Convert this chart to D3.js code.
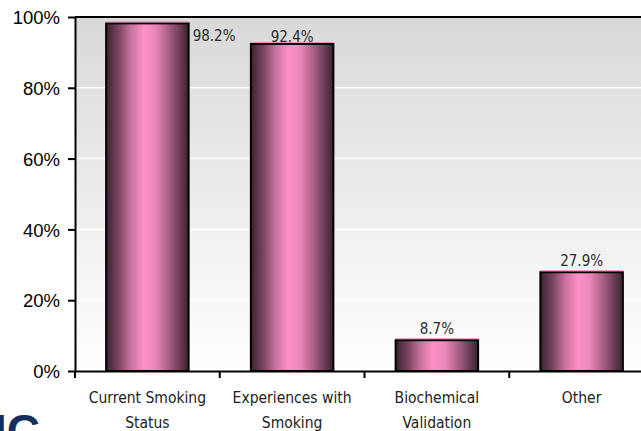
<!DOCTYPE html>
<html>
<head>
<meta charset="utf-8">
<script src="https://cdn.jsdelivr.net/npm/d3@7"></script>
<style>
  body { margin: 0; background: #fff; }
  svg { display: block; }
</style>
</head>
<body>
<div id="chart"></div>
<script>
// chart data
const categories = ['Current Smoking\nStatus', 'Experiences with\nSmoking', 'Biochemical\nValidation', 'Other'];
const values = [98.2, 92.4, 8.7, 27.9];
const valueLabels = ['98.2%', '92.4%', '8.7%', '27.9%'];
const yTicks = [0, 20, 40, 60, 80, 100];

const width = 641;
const height = 431;
const margin = { top: 17, left: 75, bottom: 60 };
const plotRight = 654; // plot runs past the window edge

const narrowFont = '"Liberation Sans Narrow", "DejaVu Sans Condensed", sans-serif';

const svg = d3.select('#chart')
  .append('svg')
  .attr('width', width)
  .attr('height', height);

const x = d3.scaleBand()
  .domain(categories)
  .range([margin.left, plotRight])
  .paddingInner(0.43)
  .paddingOuter(0.215);

const y = d3.scaleLinear()
  .domain([0, 100])
  .range([height - margin.bottom, margin.top]);

const defs = svg.append('defs');

// plot background: gray at top fading to white
const bg = defs.append('linearGradient')
  .attr('id', 'bg-grad')
  .attr('x1', 0).attr('x2', 0).attr('y1', 0).attr('y2', 1);
bg.append('stop').attr('offset', '0%').attr('stop-color', '#d9d9d9');
bg.append('stop').attr('offset', '100%').attr('stop-color', '#ffffff');

// cylinder-like shading for bars
const barGrad = defs.append('linearGradient')
  .attr('id', 'bar-grad')
  .attr('x1', 0).attr('x2', 1).attr('y1', 0).attr('y2', 0);
[
  ['0%', '#3a2230'],
  ['15%', '#7a4460'],
  ['30%', '#c8729e'],
  ['46%', '#ff90c6'],
  ['60%', '#e987b8'],
  ['78%', '#a05a7e'],
  ['100%', '#3a2230']
].forEach(([o, c]) => {
  barGrad.append('stop').attr('offset', o).attr('stop-color', c);
});

svg.append('rect')
  .attr('x', margin.left)
  .attr('y', y(100))
  .attr('width', plotRight - margin.left)
  .attr('height', y(0) - y(100))
  .attr('fill', 'url(#bg-grad)');

// white gridlines
svg.append('g')
  .selectAll('line')
  .data(yTicks.filter(d => d > 0 && d < 100))
  .join('line')
  .attr('x1', margin.left)
  .attr('x2', plotRight)
  .attr('y1', d => y(d))
  .attr('y2', d => y(d))
  .attr('stroke', '#ffffff')
  .attr('stroke-width', 1.5);

// top border of plot area
svg.append('line')
  .attr('x1', margin.left)
  .attr('x2', plotRight)
  .attr('y1', y(100))
  .attr('y2', y(100))
  .attr('stroke', '#000')
  .attr('stroke-width', 2);

// bars
const bars = svg.append('g')
  .selectAll('g')
  .data(categories.map((c, i) => ({ cat: c, value: values[i], label: valueLabels[i] })))
  .join('g');

bars.append('rect')
  .attr('x', d => x(d.cat))
  .attr('y', d => y(d.value))
  .attr('width', x.bandwidth())
  .attr('height', d => y(0) - y(d.value))
  .attr('fill', 'url(#bar-grad)')
  .attr('stroke', '#000')
  .attr('stroke-width', 2);

bars.append('line')
  .attr('x1', d => x(d.cat))
  .attr('x2', d => x(d.cat) + x.bandwidth())
  .attr('y1', d => y(d.value) - 1.5)
  .attr('y2', d => y(d.value) - 1.5)
  .attr('stroke', '#f08cbc')
  .attr('stroke-width', 1);

// value labels (first one sits beside the bar, second is pushed down by the plot top)
bars.append('text')
  .attr('x', (d, i) => i === 0 ? x(d.cat) + x.bandwidth() + 4 : x(d.cat) + x.bandwidth() / 2)
  .attr('y', (d, i) => i === 0 ? y(d.value) + 18 : Math.max(y(d.value) - 6, y(100) + 25))
  .attr('text-anchor', (d, i) => i === 0 ? 'start' : 'middle')
  .style('font-family', narrowFont)
  .style('font-size', '15px')
  .style('fill', '#2a2a2a')
  .text(d => d.label);

// y axis
const yAxis = svg.append('g')
  .attr('transform', `translate(${margin.left},0)`)
  .call(d3.axisLeft(y).tickValues(yTicks).tickFormat(d => d + '%').tickSize(7).tickSizeOuter(0));
yAxis.select('.domain').attr('stroke', '#000').attr('stroke-width', 2);
yAxis.selectAll('.tick line').attr('stroke', '#000').attr('stroke-width', 2);
yAxis.selectAll('.tick text')
  .attr('x', -15)
  .attr('dy', '0.36em')
  .style('font-family', '"Liberation Sans", Arial, sans-serif')
  .style('font-size', '18.5px')
  .style('fill', '#000');

// x axis
const xAxis = svg.append('g')
  .attr('transform', `translate(0,${y(0)})`)
  .call(d3.axisBottom(x).tickSize(0).tickSizeOuter(0));
xAxis.select('.domain').attr('stroke', '#000').attr('stroke-width', 2);

// category separators
const bounds = categories.map(c => x(c) - x.step() * x.paddingInner() / 2);
svg.append('g')
  .selectAll('line')
  .data(bounds)
  .join('line')
  .attr('x1', d => d)
  .attr('x2', d => d)
  .attr('y1', y(0))
  .attr('y2', y(0) + 7)
  .attr('stroke', '#000')
  .attr('stroke-width', 2);

xAxis.selectAll('.tick text').remove();
xAxis.selectAll('.tick')
  .append('text')
  .attr('text-anchor', 'middle')
  .style('font-family', narrowFont)
  .style('font-size', '15.5px')
  .style('fill', '#222')
  .selectAll('tspan')
  .data(d => d.split('\n'))
  .join('tspan')
  .attr('x', 0)
  .attr('y', (d, i) => 32 + i * 25)
  .text(d => d);

// partial logo at bottom left (cut off by the window edge, as in the original)
svg.append('text')
  .attr('x', -6)
  .attr('y', 447)
  .style('font-family', '"Liberation Sans", Arial, sans-serif')
  .style('font-weight', 'bold')
  .style('font-size', '46px')
  .style('fill', '#142f5e')
  .text('IC');
</script>
</body>
</html>
